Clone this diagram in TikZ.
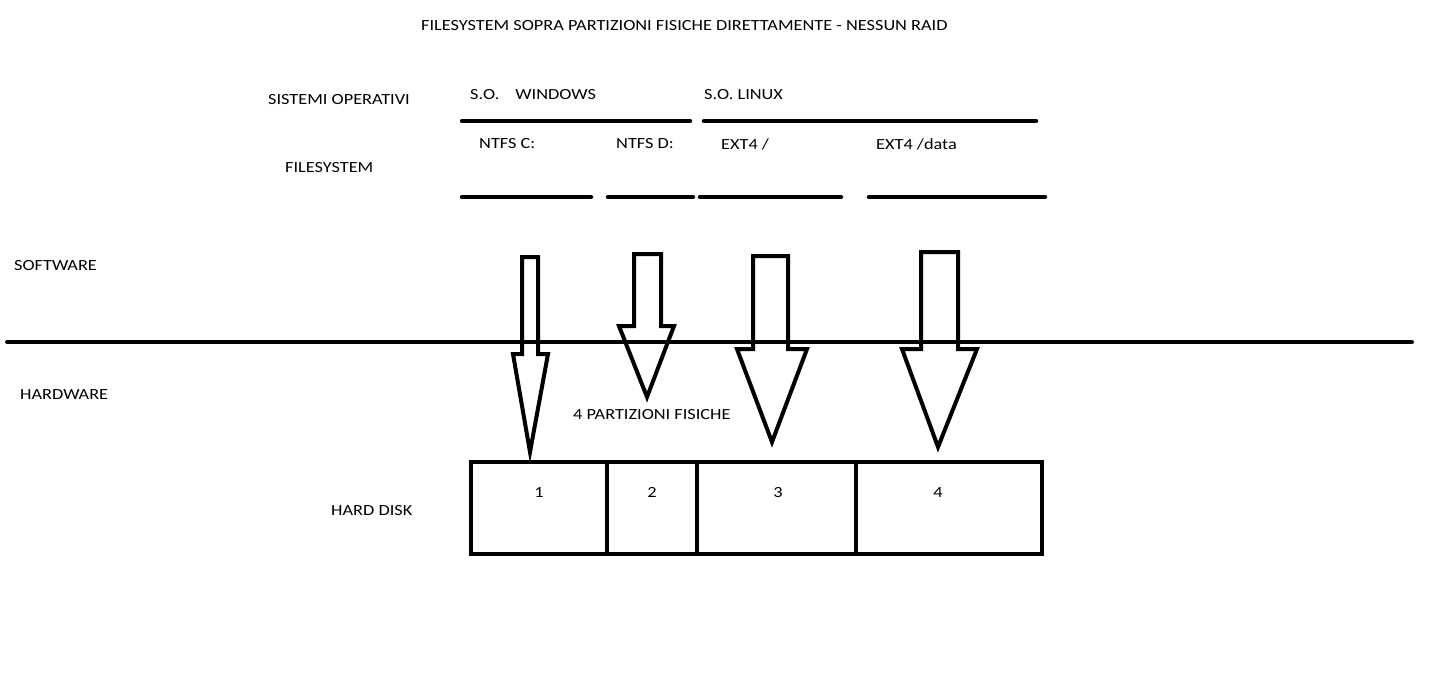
\documentclass[tikz,border=0pt]{standalone}
\usepackage{fontspec}
\setmainfont{Carlito}[FakeStretch=1.18]
\begin{document}
\begin{tikzpicture}[x=1pt,y=-1pt,
  lbl/.style={anchor=west,inner sep=0pt,font=\fontsize{15.5}{18}\selectfont},
  num/.style={inner sep=0pt,text height=10pt,text depth=0pt,font=\fontsize{15.5}{18}\selectfont},
  thick line/.style={line width=4pt},
  bar/.style={line width=4.5pt,line cap=round},
  bigarrow/.style={line width=4pt,line join=miter}]
\useasboundingbox (0,0) rectangle (1434,675);
% title
\node[lbl] (title) at (421,26) {FILESYSTEM SOPRA PARTIZIONI FISICHE DIRETTAMENTE - NESSUN RAID};
% left labels
\node[lbl] (so) at (268,100) {SISTEMI OPERATIVI};
\node[lbl] (fs) at (285,168) {FILESYSTEM};
\node[lbl] (sw) at (14,266) {SOFTWARE};
\node[lbl] (hw) at (20,395) {HARDWARE};
\node[lbl] (hd) at (331,511) {HARD DISK};
% OS labels
\node[lbl] (win) at (470,95) {S.O.\hspace{16pt}WINDOWS};
\node[lbl] (lin) at (704,95) {S.O. LINUX};
\coordinate (w1) at (462,121); \coordinate (w2) at (690,121);
\coordinate (l1) at (704,121); \coordinate (l2) at (1036,121);
\draw[bar] (w1) -- (w2);
\draw[bar] (l1) -- (l2);
% FS labels
\node[lbl] (ntfsc) at (479,144) {NTFS C:};
\node[lbl] (ntfsd) at (616,144) {NTFS D:};
\node[lbl] (ext4r) at (721,144) {EXT4 /};
\node[lbl] (ext4d) at (876,144) {EXT4 /data};
\coordinate (f1a) at (462,197); \coordinate (f1b) at (591,197);
\coordinate (f2a) at (608,197); \coordinate (f2b) at (693,197);
\coordinate (f3a) at (700,197); \coordinate (f3b) at (841,197);
\coordinate (f4a) at (869,197); \coordinate (f4b) at (1045,197);
\draw[bar] (f1a) -- (f1b);
\draw[bar] (f2a) -- (f2b);
\draw[bar] (f3a) -- (f3b);
\draw[bar] (f4a) -- (f4b);
% divider
\coordinate (divl) at (7,342); \coordinate (divr) at (1412,342);
\draw[thick line,line cap=round] (divl) -- (divr);
% arrows
\draw[bigarrow] (522,257) -- (538,257) -- (538,354) -- (548,354) -- (530,452) -- (513,354) -- (522,354) -- cycle;
\draw[bigarrow] (634,254) -- (661,254) -- (661,326) -- (674,326) -- (647,397) -- (619,326) -- (634,326) -- cycle;
\draw[bigarrow] (753,256) -- (788,256) -- (788,349) -- (807,349) -- (772,442) -- (737,349) -- (753,349) -- cycle;
\draw[bigarrow] (921,252) -- (958,252) -- (958,349) -- (977,349) -- (938,447) -- (902,349) -- (921,349) -- cycle;
\node[lbl] (part) at (573,415) {4 PARTIZIONI FISICHE};
% hard disk
\coordinate (hdtl) at (471,462); \coordinate (hdbr) at (1042,554);
\draw[thick line] (hdtl) rectangle (hdbr);
\draw[thick line] (607,462) -- (607,554);
\draw[thick line] (697,462) -- (697,554);
\draw[thick line] (856,462) -- (856,554);
\node[num] (p1) at (539,492) {1};
\node[num] (p2) at (652,492) {2};
\node[num] (p3) at (778,492) {3};
\node[num] (p4) at (938,492) {4};
\end{tikzpicture}
\end{document}
